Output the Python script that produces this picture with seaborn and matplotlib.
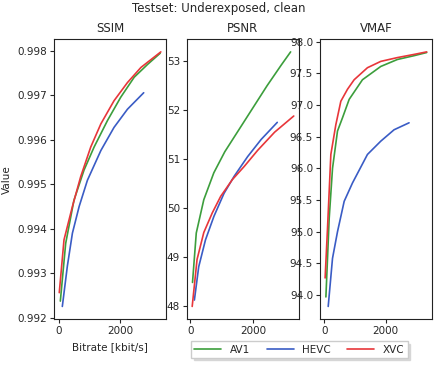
import numpy as np
import pandas as pd
import matplotlib
matplotlib.use("Agg")
import matplotlib.pyplot as plt
import seaborn as sns

# Rate-distortion points (bitrate in kbit/s)
av1_rate = [55, 230, 500, 830, 1160, 1600, 2030, 2470, 2910, 3320]
av1_ssim = [0.99237, 0.99367, 0.99464, 0.99532, 0.99584, 0.99644, 0.99696, 0.99741, 0.99770, 0.99795]
hevc_rate = [120, 285, 450, 670, 940, 1380, 1810, 2250, 2780]
hevc_ssim = [0.99225, 0.99316, 0.99390, 0.99450, 0.99509, 0.99576, 0.99628, 0.99669, 0.99706]
xvc_rate = [20, 175, 450, 720, 1050, 1380, 1810, 2250, 2690, 3340]
xvc_ssim = [0.99256, 0.99375, 0.99450, 0.99517, 0.99584, 0.99636, 0.99688, 0.99729, 0.99763, 0.99798]

av1_psnr_rate = [70, 190, 430, 750, 1100, 1500, 1950, 2450, 2900, 3200]
av1_psnr = [48.48, 49.49, 50.17, 50.72, 51.15, 51.55, 52.00, 52.50, 52.92, 53.19]
hevc_psnr_rate = [130, 268, 484, 753, 1075, 1400, 1828, 2258, 2774]
hevc_psnr = [48.12, 48.80, 49.35, 49.83, 50.30, 50.65, 51.05, 51.40, 51.75]
xvc_psnr_rate = [60, 215, 430, 700, 970, 1340, 1720, 2150, 2690, 3300]
xvc_psnr = [47.99, 48.95, 49.50, 49.90, 50.24, 50.58, 50.85, 51.18, 51.55, 51.88]

av1_vmaf_rate = [55, 162, 270, 432, 595, 811, 1243, 1838, 2378, 2919, 3330]
av1_vmaf = [93.97, 95.21, 96.00, 96.59, 96.80, 97.09, 97.40, 97.61, 97.72, 97.78, 97.83]
hevc_vmaf_rate = [130, 270, 432, 649, 919, 1405, 1838, 2270, 2757]
hevc_vmaf = [93.82, 94.58, 95.00, 95.48, 95.77, 96.22, 96.43, 96.61, 96.72]
xvc_vmaf_rate = [30, 108, 216, 378, 540, 757, 973, 1405, 1838, 2378, 2919, 3330]
xvc_vmaf = [94.27, 95.06, 96.22, 96.69, 97.06, 97.25, 97.40, 97.59, 97.69, 97.75, 97.80, 97.84]

metrics = ['SSIM', 'PSNR', 'VMAF']
codecs = ['AV1', 'HEVC', 'XVC']
colors = {'AV1': '#3c9e3c', 'HEVC': '#3a5cc5', 'XVC': '#e8363a'}

series = {
    'SSIM': {'AV1': (av1_rate, av1_ssim), 'HEVC': (hevc_rate, hevc_ssim), 'XVC': (xvc_rate, xvc_ssim)},
    'PSNR': {'AV1': (av1_psnr_rate, av1_psnr), 'HEVC': (hevc_psnr_rate, hevc_psnr),
             'XVC': (xvc_psnr_rate, xvc_psnr)},
    'VMAF': {'AV1': (av1_vmaf_rate, av1_vmaf), 'HEVC': (hevc_vmaf_rate, hevc_vmaf),
             'XVC': (xvc_vmaf_rate, xvc_vmaf)},
}

rows = []
for m in metrics:
    for c in codecs:
        rate, val = series[m][c]
        for r, v in zip(rate, val):
            rows.append({'Metric': m, 'Codec': c, 'Bitrate': r, 'Value': v})
df = pd.DataFrame(rows)

sns.set_style('ticks')
plt.rcParams['font.family'] = ['DejaVu Sans']

fig, axes = plt.subplots(1, 3, figsize=(4.37, 3.66), dpi=100)
fig.subplots_adjust(left=0.124, right=0.988, top=0.893, bottom=0.128, wspace=0.19)

for ax, m in zip(axes, metrics):
    sub = df[df['Metric'] == m]
    sns.lineplot(data=sub, x='Bitrate', y='Value', hue='Codec', hue_order=codecs,
                 palette=colors, ax=ax, linewidth=1.2, legend=(m == 'SSIM'))
    ax.set_title(m, fontsize=8.5, pad=5)
    ax.set_xticks([0, 2000])
    ax.tick_params(labelsize=7.5, length=3, width=0.8, pad=2)
    for s in ax.spines.values():
        s.set_visible(True)
        s.set_linewidth(0.8)
        s.set_color('#222222')
    ax.set_xlabel('')
    ax.set_ylabel('')

axes[0].set_xlabel('Bitrate [kbit/s]', fontsize=7.5)
axes[0].set_ylabel('Value', fontsize=7.5)
axes[0].set_yticks([0.992, 0.993, 0.994, 0.995, 0.996, 0.997, 0.998])
axes[2].set_yticks([94.0, 94.5, 95.0, 95.5, 96.0, 96.5, 97.0, 97.5, 98.0])
axes[2].yaxis.set_major_formatter(matplotlib.ticker.FormatStrFormatter('%.1f'))

handles, labels = axes[0].get_legend_handles_labels()
axes[0].get_legend().remove()
fig.legend(handles, labels, loc='center', bbox_to_anchor=(0.685, 0.045), ncol=3,
           fontsize=7.5, frameon=True, fancybox=False,
           shadow={'color': '0.82', 'alpha': 0.8}, edgecolor='#cccccc',
           handlelength=2.6, columnspacing=1.6, borderpad=0.3)

fig.suptitle('Testset: Underexposed, clean', fontsize=8.5, y=0.995)

fig.savefig('out.png', dpi=100)
